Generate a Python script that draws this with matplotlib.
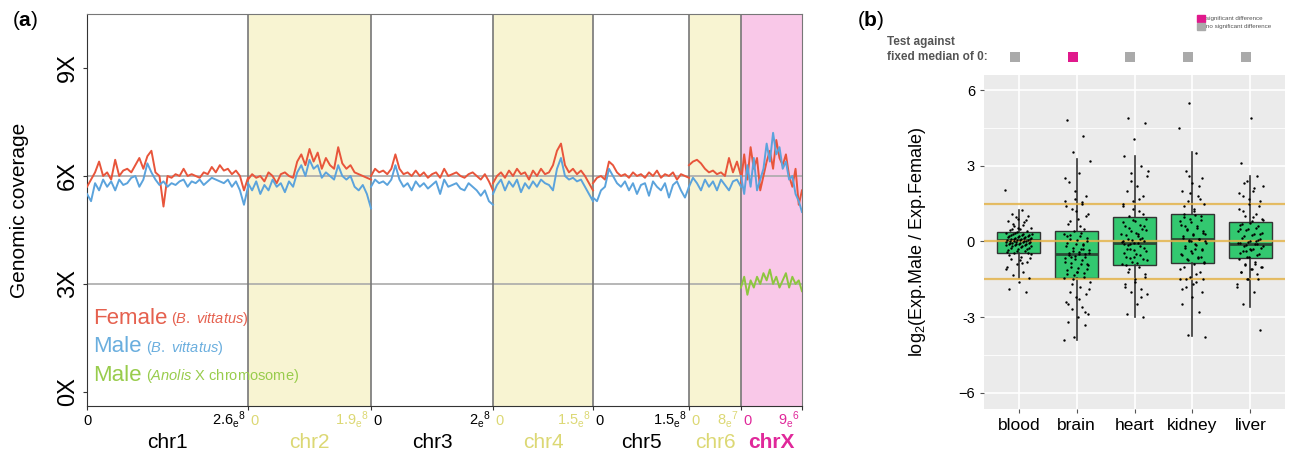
import numpy as np
import matplotlib
matplotlib.use('Agg')
import matplotlib.pyplot as plt
from matplotlib.transforms import blended_transform_factory
from matplotlib.patches import Rectangle

plt.rcParams['font.family'] = ['Liberation Sans', 'DejaVu Sans']
plt.rcParams['mathtext.fontset'] = 'custom'
plt.rcParams['mathtext.rm'] = 'Liberation Sans'
plt.rcParams['mathtext.it'] = 'Liberation Sans:italic'
plt.rcParams['mathtext.bf'] = 'Liberation Sans:bold'

# ---------------- panel (a) data ----------------
chroms = ['chr1', 'chr2', 'chr3', 'chr4', 'chr5', 'chr6', 'chrX']
chrom_end_mant = ['2.6', '1.9', '2', '1.5', '1.5', '8', '9']
chrom_end_exp = ['8', '8', '8', '8', '8', '7', '6']

# coverage per chromosome (X)
female_cov = [
    [5.7, 5.9, 6.1, 6.4, 6.0, 6.1, 5.9, 6.45, 6.0, 6.15, 6.2, 6.1, 6.3, 6.5, 6.2, 6.55, 6.7, 6.1, 6.0, 5.15,
     6.0, 5.95, 6.05, 6.0, 6.2, 6.0, 6.05, 6.0, 5.95, 6.1, 6.05, 6.25, 6.1, 6.3, 6.15, 6.2, 6.05, 6.15, 6.0, 5.6, 5.95],
    [5.9, 6.05, 5.95, 6.0, 5.85, 6.1, 6.0, 5.8, 6.05, 6.1, 6.0, 5.95, 6.4, 6.6, 6.3, 6.75, 6.4, 6.65, 6.2, 6.5,
     6.3, 6.2, 6.8, 6.35, 6.2, 6.3, 6.1, 6.05, 6.0, 5.95, 5.9],
    [6.0, 6.2, 6.1, 6.15, 6.05, 6.2, 6.6, 6.2, 6.05, 6.1, 6.0, 6.15, 6.0, 6.1, 5.95, 6.05, 6.1, 5.95, 6.2, 6.0,
     6.05, 6.1, 6.0, 5.95, 6.05, 6.1, 6.0, 5.9, 6.05, 5.85, 5.6],
    [5.8, 6.0, 6.1, 5.95, 6.15, 6.0, 6.2, 6.05, 6.1, 5.9, 6.15, 6.0, 6.2, 6.05, 6.1, 6.3, 6.7, 6.9, 6.3, 6.1,
     6.2, 6.05, 6.15, 6.0, 5.8, 5.6],
    [5.8, 5.95, 6.0, 5.9, 6.4, 6.3, 6.1, 6.0, 6.05, 5.95, 6.1, 6.0, 6.05, 5.95, 6.1, 6.0, 6.15, 5.95, 6.05, 6.0,
     6.1, 5.9, 6.05, 6.0, 5.95],
    [6.3, 6.4, 6.45, 6.35, 6.2, 6.1, 6.15, 6.05, 6.1, 6.0, 6.5, 6.1, 6.4, 6.0],
    [5.8, 6.6, 5.9, 6.8, 6.2, 6.5, 5.6, 6.0, 6.4, 6.7, 6.2, 7.0, 6.5, 6.3, 6.6, 6.0, 5.7, 6.2, 5.2, 5.6],
]
male_cov = [
    [5.5, 5.3, 5.8, 5.6, 5.9, 5.7, 5.85, 5.6, 5.9, 5.75, 5.8, 5.95, 6.0, 5.7, 5.9, 6.35, 6.1, 5.9, 5.75, 5.85,
     5.7, 5.8, 5.75, 5.85, 5.9, 5.7, 5.85, 5.8, 5.9, 5.75, 5.85, 5.95, 5.9, 5.85, 5.8, 5.9, 5.7, 5.85, 5.6, 5.2, 5.7],
    [5.8, 5.6, 5.85, 5.5, 5.75, 5.6, 5.9, 5.7, 5.8, 5.55, 5.85, 5.7, 6.1, 6.3, 6.0, 6.45, 6.2, 6.3, 5.95, 6.1,
     6.0, 5.9, 6.3, 6.0, 5.9, 6.0, 5.7, 5.6, 5.75, 5.5, 5.1],
    [5.7, 5.9, 5.8, 5.85, 5.75, 5.9, 6.3, 5.9, 5.7, 5.8, 5.6, 5.85, 5.7, 5.8, 5.65, 5.75, 5.85, 5.5, 5.9, 5.7,
     5.75, 5.8, 5.65, 5.6, 5.8, 5.7, 5.6, 5.45, 5.6, 5.3, 5.2],
    [5.5, 5.75, 5.9, 5.6, 5.85, 5.7, 5.9, 5.55, 5.8, 5.65, 5.85, 5.7, 5.9, 5.8, 5.75, 5.6, 6.2, 6.5, 6.0, 5.9,
     5.95, 5.85, 5.9, 5.7, 5.5, 5.3],
    [5.4, 5.3, 5.6, 5.7, 6.2, 6.0, 5.8, 5.7, 5.85, 5.6, 5.8, 5.5, 5.75, 5.8, 5.45, 5.85, 5.7, 5.6, 5.8, 5.4,
     5.75, 5.85, 5.6, 5.4, 5.7],
    [5.7, 5.95, 5.8, 5.6, 5.9, 5.7, 5.85, 5.6, 5.9, 5.75, 5.6, 5.85, 5.9, 5.7],
    [6.0, 5.5, 6.3, 5.7, 6.5, 5.6, 5.9, 6.2, 6.9, 6.4, 7.2, 6.6, 6.8, 6.2, 6.4, 5.9, 6.0, 5.5, 5.3, 5.0],
]
anolis_x_cov = [2.9, 3.2, 2.7, 3.1, 2.9, 3.2, 3.0, 3.3, 3.1, 3.4, 3.0, 3.2, 2.9, 3.1, 3.3, 2.9, 3.2, 3.0, 3.1, 2.8]

# ---------------- panel (b) data ----------------
tissues = ['blood', 'brain', 'heart', 'kidney', 'liver']
box_med = [0.05, -0.5, -0.05, 0.1, -0.12]
box_q1 = [-0.45, -1.47, -0.95, -0.87, -0.67]
box_q3 = [0.36, 0.42, 0.95, 1.1, 0.75]
whisk_lo = [-1.45, -3.9, -3.0, -3.75, -2.6]
whisk_hi = [1.25, 3.25, 3.4, 3.55, 2.6]
significant = [False, True, False, False, False]

pts_blood = [2.05, 1.25, 1.1, 1.0, 0.9, 0.8, 0.75, 0.6, 0.55, 0.5, 0.45, 0.4, 0.38, 0.35, 0.3, 0.28, 0.25,
             0.22, 0.2, 0.18, 0.15, 0.12, 0.1, 0.08, 0.06, 0.05, 0.04, 0.02, 0.0, -0.02, -0.05, -0.08, -0.1,
             -0.12, -0.15, -0.18, -0.2, -0.25, -0.3, -0.35, -0.4, -0.45, -0.5, -0.6, -0.7, -0.8, -0.9, -1.0,
             -1.2, -1.35, -1.45, -1.6, -1.9, -2.0,
             0.33, 0.31, 0.27, 0.24, 0.21, 0.19, 0.16, 0.14, 0.11, 0.09, 0.07, 0.03, 0.01, -0.01, -0.03, -0.04,
             -0.06, -0.07, -0.09, -0.11, -0.13, -0.16, -0.19, -0.22, -0.27, -0.32, -0.38, -0.42, 0.65, 0.7,
             -0.65, -0.75, -0.55, 0.85, 0.95, -1.1, -0.85, 0.48, -0.47, 0.52]
pts_brain = [4.8, 4.2, 3.55, 3.2, 2.7, 2.35, 1.8, 1.7, 1.6, 1.5, 1.3, 1.1, 0.9, 0.7, 0.5, 0.4, 0.3, 0.2,
             0.1, 0.0, -0.1, -0.2, -0.3, -0.4, -0.45, -0.5, -0.55, -0.6, -0.7, -0.8, -0.9, -1.0, -1.1, -1.2,
             -1.3, -1.4, -1.5, -1.6, -1.8, -2.0, -2.1, -2.2, -2.4, -2.6, -2.7, -2.9, -3.0, -3.2, -3.3, -3.8, -3.9,
             0.35, 0.25, 0.15, 0.05, -0.05, -0.15, -0.25, -0.35, -0.42, -0.48, -0.52, -0.58, -0.65, -0.75,
             -0.85, -0.95, -1.05, -1.15, -1.25, -1.35, -1.45, 0.6, 0.8, 1.0, 1.2, 1.4, 1.55, -1.7, -1.9, -2.3,
             -2.5, -2.8, 2.0, 2.5, -0.3, -0.6, -0.9, -1.2, 0.2, -0.1]
pts_heart = [4.9, 4.7, 4.05, 3.4, 3.0, 2.7, 2.6, 2.2, 2.0, 1.8, 1.6, 1.4, 1.2, 1.0, 0.9, 0.8, 0.6, 0.5,
             0.4, 0.3, 0.2, 0.1, 0.0, -0.05, -0.1, -0.2, -0.3, -0.4, -0.5, -0.6, -0.7, -0.8, -0.9, -1.0,
             -1.2, -1.4, -1.6, -1.8, -1.9, -2.0, -2.1, -2.5, -2.9, -3.0,
             0.85, 0.75, 0.65, 0.55, 0.45, 0.35, 0.25, 0.15, 0.05, -0.02, -0.08, -0.15, -0.25, -0.35, -0.45,
             -0.55, -0.65, -0.75, -0.85, -0.92, 1.1, 1.3, 1.5, 1.7, -1.1, -1.3, -1.5, -1.7, -2.2, 2.4, 2.8,
             0.3, -0.3, 0.6, -0.6, 0.0, 0.1, -0.1]
pts_kidney = [5.5, 4.5, 3.5, 2.8, 2.5, 2.3, 2.0, 1.8, 1.6, 1.5, 1.3, 1.1, 1.0, 0.9, 0.8, 0.6, 0.5, 0.4,
              0.3, 0.2, 0.1, 0.05, 0.0, -0.1, -0.2, -0.3, -0.4, -0.5, -0.6, -0.7, -0.8, -0.9, -1.0, -1.2,
              -1.4, -1.5, -1.6, -1.8, -2.0, -2.2, -2.5, -2.8, -3.7, -3.8,
              1.05, 0.95, 0.85, 0.75, 0.65, 0.55, 0.45, 0.35, 0.25, 0.15, 0.08, 0.02, -0.05, -0.15, -0.25,
              -0.35, -0.45, -0.55, -0.65, -0.75, -0.85, 1.2, 1.4, 1.7, 1.9, -1.1, -1.3, -1.5, -1.5, -1.7,
              -1.9, 2.2, 2.6, 0.3, -0.3, 0.6, -0.6, 0.0]
pts_liver = [4.9, 3.1, 2.6, 2.4, 2.2, 2.0, 1.8, 1.6, 1.5, 1.3, 1.1, 1.0, 0.9, 0.8, 0.7, 0.6, 0.5, 0.4,
             0.3, 0.2, 0.1, 0.0, -0.05, -0.1, -0.15, -0.2, -0.3, -0.4, -0.5, -0.6, -0.7, -0.8, -0.9, -1.0,
             -1.1, -1.2, -1.3, -1.5, -1.8, -2.0, -2.5, -3.5,
             0.72, 0.65, 0.55, 0.45, 0.35, 0.25, 0.15, 0.05, -0.02, -0.08, -0.12, -0.18, -0.25, -0.35, -0.45,
             -0.55, -0.62, 0.85, 0.95, 1.2, 1.4, 1.7, 1.9, -0.9, -0.95, -1.0, -1.1, -1.2, -1.5, -1.5, -1.7,
             2.1, 2.3, 0.3, -0.3, 0.5, 0.0, -0.4]
points = [pts_blood, pts_brain, pts_heart, pts_kidney, pts_liver]

# ---------------- styling ----------------
RED = '#e8553b'
BLUE = '#5ba3dc'
GREEN = '#8dc63f'
YEL_BG = '#f8f4d2'
PINK_BG = '#f9c8e8'
YEL_TXT = '#dcd874'
MAG = '#e0289a'
seg_w = [161, 123, 122, 100, 96, 52, 61]   # on-screen width of each chromosome panel
seg_bg = ['white', YEL_BG, 'white', YEL_BG, 'white', YEL_BG, PINK_BG]
seg_txt = ['black', YEL_TXT, 'black', YEL_TXT, 'black', YEL_TXT, MAG]

fig = plt.figure(figsize=(12.91, 4.59), dpi=100)

# ===== panel (a) =====
ax = fig.add_axes([0.0674, 0.1155, 0.5538, 0.854])
bounds = np.concatenate([[0], np.cumsum(seg_w)])
ax.set_xlim(0, bounds[-1])
ax.set_ylim(-0.39, 10.5)

for i in range(len(chroms)):
    ax.axvspan(bounds[i], bounds[i + 1], color=seg_bg[i], lw=0, zorder=0)
ax.axhline(6, color='#aaaaaa', lw=1.2, zorder=1)
ax.axhline(3, color='#aaaaaa', lw=1.2, zorder=1)
for b in bounds[1:-1]:
    ax.axvline(b, color='#777777', lw=1.2, zorder=2)

for i in range(len(chroms)):
    xs = np.linspace(bounds[i], bounds[i + 1], len(female_cov[i]))
    ax.plot(xs, female_cov[i], color=RED, lw=1.4, zorder=3)
    xs = np.linspace(bounds[i], bounds[i + 1], len(male_cov[i]))
    ax.plot(xs, male_cov[i], color=BLUE, lw=1.4, zorder=4)
xs = np.linspace(bounds[-2], bounds[-1], len(anolis_x_cov))
ax.plot(xs, anolis_x_cov, color=GREEN, lw=1.4, zorder=4)

for side in ['top', 'right']:
    ax.spines[side].set_color('#777777')
for side in ['left', 'bottom']:
    ax.spines[side].set_color('#333333')
ax.set_yticks([0, 3, 6, 9])
ax.set_yticklabels(['0X', '3X', '6X', '9X'], rotation=90, va='center', fontsize=17)
ax.set_xticks(bounds)
ax.set_xticklabels([])
ax.tick_params(axis='both', length=3, color='#333333')
ax.tick_params(axis='y', pad=3)
ax.set_ylabel('Genomic coverage', fontsize=15, labelpad=20)

trans = blended_transform_factory(ax.transData, fig.transFigure)
ax.text(bounds[0], 0.082, '0', transform=trans, ha='center', va='center', fontsize=10.5)
for i in range(len(chroms)):
    c = seg_txt[i]
    if i > 0:
        ax.text(bounds[i] + 2, 0.082, '0', transform=trans, ha='left', va='center', fontsize=10.5, color=c)
    lab = chrom_end_mant[i] + r'$_{\mathregular{e}}$$^{\mathregular{' + chrom_end_exp[i] + '}}$'
    ax.text(bounds[i + 1] - 2, 0.085, lab, transform=trans, ha='right', va='center', fontsize=10.5, color=c)
    ax.text((bounds[i] + bounds[i + 1]) / 2, 0.036, chroms[i], transform=trans, ha='center',
            va='center', fontsize=15, color=c, fontweight='bold' if chroms[i] == 'chrX' else 'normal')

# legend-like labels
leg = [('Female', r'($\it{B.\ vittatus}$)', '#e5604e', 2.05),
       ('Male', r'($\it{B.\ vittatus}$)', '#6aaede', 1.25),
       ('Male', r'($\it{Anolis}$ X chromosome)', '#98cc4c', 0.45)]
for name, sub, col, yv in leg:
    t = ax.text(6, yv, name, fontsize=16, color=col, va='center', ha='left', zorder=6)
    ax.annotate(' ' + sub, xycoords=t, xy=(1, 0.28), va='baseline', ha='left',
                fontsize=10.5, color=col, zorder=6)
fig.text(0.009, 0.955, r'($\mathbf{a}$)', fontsize=15, va='center')

# ===== panel (b) =====
bx = fig.add_axes([0.7622, 0.1089, 0.2332, 0.7277])
bx.set_facecolor('#ebebeb')
pos = np.arange(1, len(tissues) + 1)
bx.set_xlim(0.4, 5.6)
bx.set_ylim(-6.65, 6.6)
for s in bx.spines.values():
    s.set_visible(False)
for yv in [-4.5, -1.5, 1.5, 4.5]:
    bx.axhline(yv, color='white', lw=0.6, zorder=0.5)
for yv in [-6, -3, 0, 3, 6]:
    bx.axhline(yv, color='white', lw=1.2, zorder=0.5)
for xv in pos:
    bx.axvline(xv, color='white', lw=1.2, zorder=0.5)

stats = [dict(med=box_med[i], q1=box_q1[i], q3=box_q3[i], whislo=whisk_lo[i], whishi=whisk_hi[i],
              fliers=[]) for i in range(len(tissues))]
bx.bxp(stats, positions=pos, widths=0.75, patch_artist=True, showcaps=False,
       boxprops=dict(facecolor='#33c870', edgecolor='#333333', lw=1.0),
       medianprops=dict(color='#2a4a35', lw=2.0),
       whiskerprops=dict(color='#333333', lw=1.2), zorder=2)

for yv in [-1.5, 0, 1.5]:
    bx.axhline(yv, color='#e2b24a', lw=1.6, alpha=0.85, zorder=3)

for i, vals in enumerate(points):
    n = len(vals)
    offs = ((np.arange(n) * 0.6180339887 + 0.13 * i) % 1 - 0.5) * 0.46
    bx.scatter(pos[i] + offs, vals, s=3, color='black', lw=0, zorder=4)

bx.set_xticks(pos)
bx.set_xticklabels(tissues, fontsize=12.5)
bx.set_yticks([-6, -3, 0, 3, 6])
bx.set_yticklabels(['\u22126', '-3', '0', '3', '6'], fontsize=10.5)
bx.tick_params(axis='both', length=3, color='#555555')
bx.set_ylabel(r'log$_{\mathregular{2}}$(Exp.Male / Exp.Female)', fontsize=13, labelpad=22)

# significance squares above the plot
tb = blended_transform_factory(bx.transData, fig.transFigure)
for i in range(len(tissues)):
    bx.scatter(pos[i] - 0.07, 0.876, marker='s', s=50, transform=tb, clip_on=False,
               color='#e0198c' if significant[i] else '#aaaaaa', lw=0)
fig.text(0.687, 0.908, 'Test against', fontsize=8.5, fontweight='bold', color='#555555', va='center')
fig.text(0.687, 0.876, 'fixed median of 0:', fontsize=8.5, fontweight='bold', color='#555555', va='center')

fig.patches.append(Rectangle((0.9275, 0.952), 0.0055, 0.015, transform=fig.transFigure,
                             color='#e0198c', figure=fig))
fig.patches.append(Rectangle((0.9275, 0.935), 0.0055, 0.015, transform=fig.transFigure,
                             color='#aaaaaa', figure=fig))
fig.text(0.9345, 0.960, 'significant difference', fontsize=4.5, color='#555555', va='center')
fig.text(0.9345, 0.942, 'no significant difference', fontsize=4.5, color='#555555', va='center')
fig.text(0.664, 0.955, r'($\mathbf{b}$)', fontsize=15, va='center')

fig.savefig('out.png', dpi=100)
